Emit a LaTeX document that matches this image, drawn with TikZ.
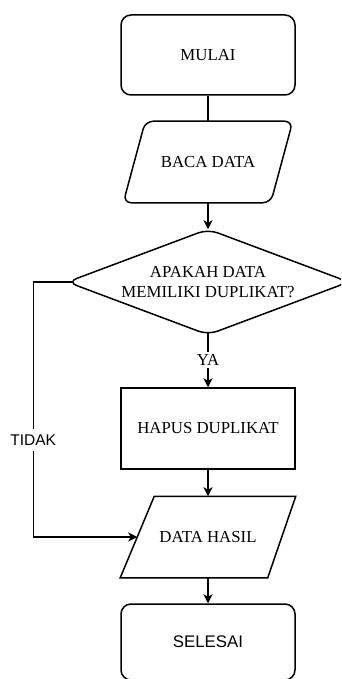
\documentclass[tikz,border=0pt]{standalone}
\usepackage{fontspec}
\setmainfont{Liberation Serif}
\newfontfamily\sansf{Liberation Sans}
\usetikzlibrary{arrows.meta}
\begin{document}
\begin{tikzpicture}[x=1pt,y=-1pt,
  base/.style={line width=1.5pt, font=\fontsize{16.8}{20}\selectfont, align=center, inner sep=2pt},
  term/.style={base, draw=black, rectangle, rounded corners=10pt, minimum width=174pt, minimum height=80pt},
  proc/.style={base, draw=black, rectangle, minimum width=174pt, minimum height=81pt},
  box/.style={base, rectangle, minimum height=80pt},
  outline/.style={draw=black, line width=1.5pt},
  link/.style={line width=1.5pt},
  conn/.style={link, -{Stealth[length=9pt,width=9pt,inset=2.5pt]}},
  lbl/.style={fill=white, inner sep=2pt, font=\fontsize{16.8}{20}\selectfont}
]
\useasboundingbox (0,0) rectangle (341,679);
\clip (0,0) rectangle (341,679);
\node[term] (mulai) at (208,55) {MULAI};
\node[box, minimum width=168pt] (baca) at (208,162) {BACA DATA};
\draw[outline, rounded corners=8pt] ([xshift=22pt]baca.north west) -- (baca.north east) -- ([xshift=-22pt]baca.south east) -- (baca.south west) -- cycle;
\node[box, minimum width=280pt, minimum height=104pt] (dec) at (208,282) {APAKAH DATA\\MEMILIKI DUPLIKAT?};
\draw[outline, rounded corners=10pt] (dec.north) -- (dec.east) -- (dec.south) -- (dec.west) -- cycle;
\node[proc] (hapus) at (208,428.5) {HAPUS DUPLIKAT};
\node[box, minimum width=174pt] (hasil) at (208,537) {DATA HASIL};
\draw[outline] ([xshift=34pt]hasil.north west) -- (hasil.north east) -- ([xshift=-28pt]hasil.south east) -- (hasil.south west) -- cycle;
\node[term, font=\sansf\fontsize{16.8}{20}\selectfont, minimum height=76pt] (selesai) at (208,642) {SELESAI};
\draw[link] (mulai.south) -- (baca.north);
\draw[conn] (baca.south) -- (dec.north);
\draw[conn] ([yshift=2pt]dec.south) -- node[lbl] (ya) {YA} (hapus.north);
\draw[conn] ([xshift=6pt]dec.west) -- ++(-40,0) |- node[lbl, pos=0.31, font=\sansf\fontsize{15.5}{18}\selectfont, inner ysep=6pt] (tidak) {TIDAK} ([xshift=17pt]hasil.west);
\draw[conn] (hapus.south) -- (hasil.north);
\draw[conn] (hasil.south) -- (selesai.north);
\end{tikzpicture}
\end{document}
